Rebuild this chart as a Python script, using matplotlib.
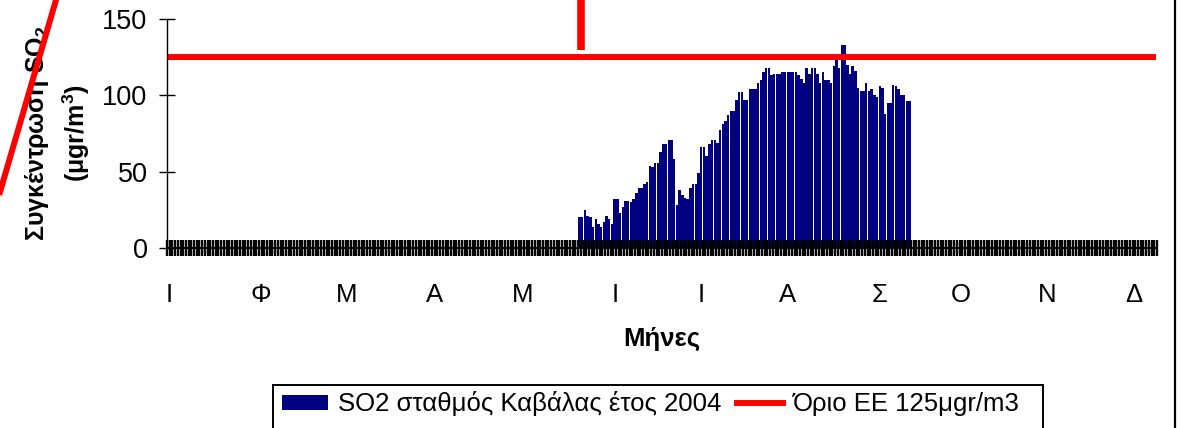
import numpy as np
import matplotlib
matplotlib.use("Agg")
import matplotlib.pyplot as plt
from matplotlib.lines import Line2D
from matplotlib.patches import Patch, Rectangle

plt.rcParams["font.family"] = ["Liberation Sans", "DejaVu Sans"]
plt.rcParams["mathtext.fontset"] = "custom"
plt.rcParams["mathtext.rm"] = "Liberation Sans"
plt.rcParams["mathtext.bf"] = "Liberation Sans:bold"

# --- data -------------------------------------------------------------
DAYS_IN_YEAR = 366          # 2004, daily categories
START_DAY = 152             # 1 June (0-based day of year)
LIMIT = 125                 # EU limit, ugr/m3

# daily SO2 values from 1 June onwards
so2_daily = [
    20, 20, 25, 21, 20, 14, 19, 16, 14, 17, 21, 19, 16, 32, 32, 23, 27, 31, 31, 30,
    32, 36, 39, 39, 42, 43, 54, 53, 56, 56, 63, 68, 68, 71, 71, 58, 28, 38, 35, 33,
    32, 39, 42, 42, 49, 66, 66, 60, 68, 71, 71, 69, 77, 81, 83, 87, 90, 90, 97, 102,
    102, 97, 97, 104, 104, 104, 108, 110, 115, 118, 118, 113, 114, 114, 114, 115, 115, 115, 115, 115,
    115, 113, 111, 108, 118, 114, 118, 118, 114, 108, 115, 110, 110, 108, 119, 125, 118, 133, 133, 120,
    114, 119, 116, 105, 103, 103, 108, 103, 104, 100, 99, 106, 105, 88, 95, 95, 107, 106, 104, 100,
    100, 96, 96,
]

month_labels = ["Ι", "Φ", "Μ", "Α", "Μ", "Ι", "Ι", "Α", "Σ", "Ο", "Ν", "Δ"]
month_label_pos = [0.7, 34.7, 66.5, 99.0, 131.5, 165.8, 197.6, 229.3, 263.3, 293.6, 325.3, 357.5]
y_ticks = [0, 50, 100, 150]

W, H = 1181, 428
NAVY = "#000080"
RED = "#ff0000"


def fx(px):
    return px / W


def fy(py):
    return 1 - py / H


fig = plt.figure(figsize=(W / 100, H / 100), dpi=100, facecolor="white")
ax = fig.add_axes([fx(167), fy(248), fx(1157) - fx(167), fy(19) - fy(248)])

x = START_DAY + np.arange(len(so2_daily)) + 0.5
ax.bar(x, so2_daily, width=0.9, color=NAVY, linewidth=0)

days = np.arange(DAYS_IN_YEAR) + 0.5
ax.plot(days, np.full(DAYS_IN_YEAR, LIMIT), color=RED, lw=4.3, solid_capstyle="butt")

ax.set_xlim(0, DAYS_IN_YEAR)
ax.set_ylim(0, 150)
for side in ["top", "right"]:
    ax.spines[side].set_visible(False)
ax.spines["left"].set_linewidth(1.0)
ax.spines["bottom"].set_linewidth(1.4)

# one tick mark per day, month initials as separate (minor) labels
ax.xaxis.remove_overlapping_locs = False
ax.set_xticks(np.arange(0, DAYS_IN_YEAR + 1))
ax.set_xticks(month_label_pos, minor=True)
ax.set_xticklabels(month_labels, minor=True)
ax.tick_params(axis="x", which="major", direction="inout", length=11.5, width=1.7,
               labelbottom=False)
ax.tick_params(axis="x", which="minor", length=0, pad=25, labelsize=18.5)

ax.set_yticks(y_ticks)
ax.tick_params(axis="y", direction="inout", length=12, width=1.0, pad=8, labelsize=19.5)

ax.set_xlabel("Μήνες", fontsize=18.5, fontweight="bold")
ax.xaxis.set_label_coords(0.5, (248 - 327) / 229)
ax.set_ylabel("Συγκέντρωση SO$_\\mathbf{2}$\n(μgr/m$^\\mathbf{3}$)", fontsize=18,
              fontweight="bold", linespacing=1.4)
ax.yaxis.set_label_coords((92 - 167) / 990, 0.5)

# stray red strokes and the chart border visible in the original
fig.add_artist(Line2D([fx(581), fx(581)], [fy(0), fy(50)], color=RED, lw=5.5,
                      solid_capstyle="butt"))
fig.add_artist(Line2D([fx(56), fx(0)], [fy(0), fy(192)], color=RED, lw=4.3))
fig.add_artist(Line2D([fx(1175), fx(1175)], [0, 1], color="black", lw=1.6))

handles = [
    Patch(facecolor=NAVY, edgecolor="none", label="SO2 σταθμός Καβάλας έτος 2004"),
    Line2D([], [], color=RED, lw=4.3, label="Όριο ΕΕ 125μgr/m3"),
]
fig.legend(handles=handles, loc="center left", bbox_to_anchor=(fx(282), fy(404)),
           ncol=2, frameon=False, fontsize=18.5, handlelength=1.8, handleheight=0.55,
           handletextpad=0.38, columnspacing=0.6, borderaxespad=0, borderpad=0)
fig.add_artist(Rectangle((fx(273), -0.1), fx(1043) - fx(273), fy(385) + 0.1,
                         transform=fig.transFigure, fill=False, edgecolor="black", lw=1.4))

fig.savefig("out.png", dpi=100)
